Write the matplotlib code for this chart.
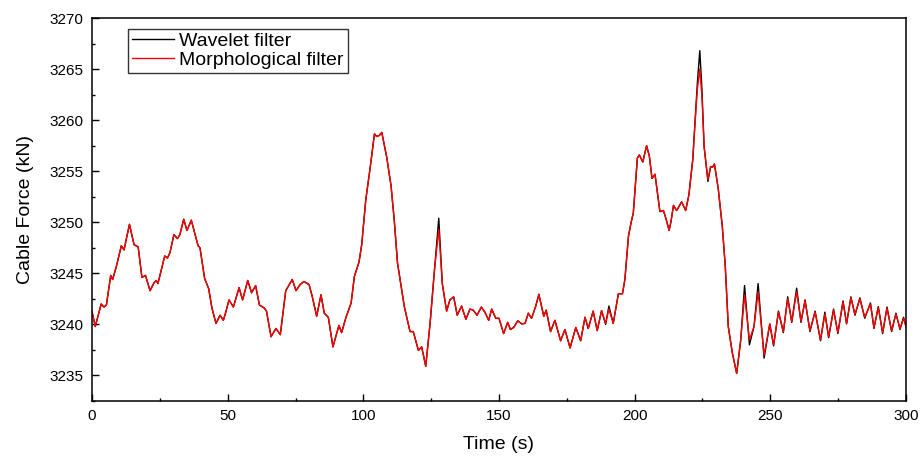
import matplotlib
matplotlib.use("Agg")
import matplotlib.pyplot as plt
from matplotlib.ticker import MultipleLocator

plt.rcParams['font.family'] = ['Liberation Sans', 'DejaVu Sans']

time_s = [0.0, 1.2, 3.4, 4.4, 5.3, 6.9, 7.6, 9.0, 10.8, 11.8, 13.8, 15.5, 17.0, 18.4, 19.7,
          21.4, 22.9, 23.7, 24.3, 26.8, 27.8, 28.7, 30.2, 31.5, 32.4, 33.8, 35.0, 36.6, 37.8,
          39.1, 39.8, 41.5, 43.0, 44.2, 45.7, 47.2, 48.4, 49.3, 50.5, 52.1, 54.2, 55.5, 57.4,
          58.8, 60.3, 61.7, 63.5, 64.3, 66.0, 67.8, 69.4, 71.4, 73.8, 75.2, 76.7, 78.1, 80.0,
          81.2, 82.8, 84.4, 85.6, 87.1, 88.8, 91.0, 92.0, 93.5, 95.5, 96.7, 98.4, 99.4, 100.9,
          102.5, 104.1, 104.9, 105.9, 106.8, 108.6, 110.2, 111.4, 112.6, 115.1, 117.2, 118.4,
          120.3, 121.5, 123.0, 124.6, 126.2, 127.8, 129.1, 130.7, 131.9, 133.3, 134.6, 136.2,
          137.8, 139.3, 140.5, 141.9, 143.5, 144.8, 146.2, 147.3, 148.8, 150.0, 151.7, 153.2,
          154.2, 155.4, 156.9, 158.4, 159.6, 160.8, 162.0, 163.5, 164.7, 166.5, 167.4, 169.0,
          170.6, 172.7, 174.3, 176.2, 178.3, 180.1, 181.7, 182.9, 184.7, 186.2, 187.8, 189.3,
          190.5, 192.1, 194.0, 195.5, 196.4, 197.7, 198.7, 199.5, 201.0, 201.7, 203.0, 204.4,
          205.4, 206.4, 207.5, 208.4, 209.3, 210.6, 211.5, 212.7, 213.4, 214.3, 215.5, 217.3,
          218.8, 220.0, 221.4, 222.2, 223.1, 224.0, 224.8, 225.6, 227.0, 228.0, 228.7, 229.4,
          230.8, 232.3, 233.4, 234.5, 236.0, 237.6, 239.1, 240.5, 242.3, 244.0, 245.5, 247.7,
          249.8, 251.2, 253.0, 254.8, 256.4, 257.9, 259.7, 261.3, 262.8, 264.6, 266.5, 268.5,
          270.1, 271.5, 273.3, 274.9, 276.8, 278.1, 279.7, 281.2, 283.0, 284.8, 286.9, 288.2,
          289.8, 291.4, 293.0, 294.7, 296.3, 297.8, 299.1, 300.0]

wavelet = [3241.25, 3239.8, 3242.0, 3241.7, 3241.9, 3244.8, 3244.4, 3245.7, 3247.7, 3247.3, 3249.8,
           3247.8, 3247.6, 3244.6, 3244.8, 3243.3, 3244.1, 3244.3, 3244.0, 3246.7, 3246.5, 3247.0,
           3248.8, 3248.4, 3248.8, 3250.3, 3249.2, 3250.2, 3249.0, 3247.7, 3247.5, 3244.5, 3243.5,
           3241.6, 3240.1, 3240.9, 3240.4, 3241.2, 3242.4, 3241.7, 3243.6, 3242.4, 3244.3, 3243.1,
           3243.8, 3241.9, 3241.6, 3241.3, 3238.8, 3239.6, 3239.0, 3243.3, 3244.4, 3243.3, 3243.9,
           3244.2, 3243.9, 3242.7, 3240.8, 3242.9, 3241.1, 3240.7, 3237.8, 3239.9, 3239.2, 3240.6,
           3242.1, 3244.7, 3246.1, 3247.8, 3252.2, 3255.3, 3258.65, 3258.4, 3258.5, 3258.8, 3256.4,
           3253.6, 3250.2, 3246.0, 3241.75, 3239.3, 3239.3, 3237.45, 3237.8, 3235.9, 3240.1, 3245.3,
           3250.4, 3244.0, 3241.3, 3242.4, 3242.7, 3240.9, 3241.8, 3240.5, 3241.5, 3241.4, 3240.9,
           3241.7, 3241.2, 3240.4, 3241.5, 3240.6, 3240.6, 3239.1, 3240.2, 3239.5, 3239.7, 3240.35,
           3240.05, 3240.1, 3241.1, 3240.6, 3241.75, 3242.96, 3240.8, 3241.4, 3239.3, 3240.4, 3238.4,
           3239.5, 3237.7, 3239.7, 3238.4, 3240.7, 3239.6, 3241.3, 3239.4, 3241.35, 3240.0, 3241.8,
           3240.1, 3243.0, 3243.0, 3244.4, 3248.6, 3250.0, 3250.9, 3256.3, 3256.6, 3255.9, 3257.5,
           3256.5, 3254.3, 3254.7, 3252.85, 3251.05, 3251.15, 3250.4, 3249.2, 3250.1, 3251.65,
           3251.15, 3252.0, 3251.15, 3252.7, 3256.1, 3259.7, 3263.6, 3266.8, 3262.95, 3257.4,
           3254.0, 3255.45, 3255.4, 3255.7, 3253.3, 3249.6, 3245.7, 3239.8, 3237.2, 3235.2, 3238.5,
           3243.8, 3238.0, 3239.8, 3244.0, 3236.7, 3240.05, 3237.9, 3241.3, 3239.2, 3242.7, 3240.2,
           3243.55, 3240.2, 3242.4, 3239.3, 3241.3, 3238.4, 3241.2, 3238.7, 3241.5, 3239.1, 3242.3,
           3240.05, 3242.7, 3240.9, 3242.6, 3240.6, 3242.1, 3239.6, 3241.75, 3239.1, 3241.7, 3239.3,
           3241.1, 3239.5, 3240.7, 3239.8]

morphological = [3241.25, 3239.8, 3242.0, 3241.7, 3241.9, 3244.8, 3244.4, 3245.7, 3247.7, 3247.3, 3249.8,
                 3247.8, 3247.6, 3244.6, 3244.8, 3243.3, 3244.1, 3244.3, 3244.0, 3246.7, 3246.5, 3247.0,
                 3248.8, 3248.4, 3248.8, 3250.3, 3249.2, 3250.2, 3249.0, 3247.7, 3247.5, 3244.5, 3243.5,
                 3241.6, 3240.1, 3240.9, 3240.4, 3241.2, 3242.4, 3241.7, 3243.6, 3242.4, 3244.3, 3243.1,
                 3243.8, 3241.9, 3241.6, 3241.3, 3238.8, 3239.6, 3239.0, 3243.3, 3244.4, 3243.3, 3243.9,
                 3244.2, 3243.9, 3242.7, 3240.8, 3242.9, 3241.1, 3240.7, 3237.8, 3239.9, 3239.2, 3240.6,
                 3242.1, 3244.7, 3246.1, 3247.8, 3252.2, 3255.3, 3258.65, 3258.4, 3258.5, 3258.8, 3256.4,
                 3253.6, 3250.2, 3246.0, 3241.75, 3239.3, 3239.3, 3237.45, 3237.8, 3235.9, 3240.1, 3245.3,
                 3249.3, 3244.0, 3241.3, 3242.4, 3242.7, 3240.9, 3241.8, 3240.5, 3241.5, 3241.4, 3240.9,
                 3241.7, 3241.2, 3240.4, 3241.5, 3240.6, 3240.6, 3239.1, 3240.2, 3239.5, 3239.7, 3240.35,
                 3240.05, 3240.1, 3241.1, 3240.6, 3241.75, 3242.9, 3240.8, 3241.4, 3239.3, 3240.4, 3238.4,
                 3239.5, 3237.7, 3239.7, 3238.4, 3240.7, 3239.6, 3241.3, 3239.4, 3241.35, 3240.1, 3241.5,
                 3240.1, 3243.0, 3243.0, 3244.4, 3248.6, 3250.0, 3250.9, 3256.3, 3256.6, 3255.9, 3257.5,
                 3256.5, 3254.3, 3254.7, 3252.85, 3251.05, 3251.15, 3250.4, 3249.2, 3250.1, 3251.65,
                 3251.15, 3252.0, 3251.15, 3252.7, 3256.1, 3259.5, 3263.0, 3265.0, 3262.3, 3257.4,
                 3254.2, 3255.45, 3255.4, 3255.7, 3253.3, 3249.6, 3245.7, 3239.8, 3237.2, 3235.2, 3238.5,
                 3242.9, 3238.5, 3239.8, 3243.2, 3237.0, 3240.05, 3238.0, 3241.2, 3239.3, 3242.5, 3240.3,
                 3243.2, 3240.3, 3242.3, 3239.4, 3241.2, 3238.5, 3241.0, 3238.8, 3241.4, 3239.2, 3242.2,
                 3240.1, 3242.6, 3241.0, 3242.5, 3240.7, 3242.0, 3239.7, 3241.65, 3239.2, 3241.6, 3239.4,
                 3241.0, 3239.6, 3240.6, 3239.8]

x_ticks = [0, 50, 100, 150, 200, 250, 300]
y_ticks = [3235, 3240, 3245, 3250, 3255, 3260, 3265, 3270]

fig = plt.figure(figsize=(9.21, 4.57), dpi=100)
ax = fig.add_axes([0.0999, 0.1225, 0.8838, 0.8381])

ax.plot(time_s, wavelet, color='black', lw=1.0, label='Wavelet filter')
ax.plot(time_s, morphological, color='red', lw=1.0, label='Morphological filter')

ax.set_xlim(0, 300)
ax.set_ylim(3232.5, 3270)
ax.set_xticks(x_ticks)
ax.set_yticks(y_ticks)
ax.xaxis.set_minor_locator(MultipleLocator(25))
ax.yaxis.set_minor_locator(MultipleLocator(2.5))
ax.tick_params(which='both', direction='in', top=False, right=False, labelsize=11, width=1.0)
ax.tick_params(which='major', length=5, pad=6)
ax.tick_params(which='minor', length=2.5)
for sp in ax.spines.values():
    sp.set_linewidth(1.1)

ax.set_xlabel('Time (s)', fontsize=14, labelpad=9)
ax.set_ylabel('Cable Force (kN)', fontsize=14, labelpad=11)

leg = ax.legend(loc='upper left', bbox_to_anchor=(0.044, 0.972), borderaxespad=0,
                fontsize=14, frameon=True, fancybox=False, edgecolor='black',
                handlelength=2.15, handletextpad=0.3, labelspacing=0.05, borderpad=0.2)
leg.get_frame().set_linewidth(1.0)

fig.savefig('out.png', dpi=100)
